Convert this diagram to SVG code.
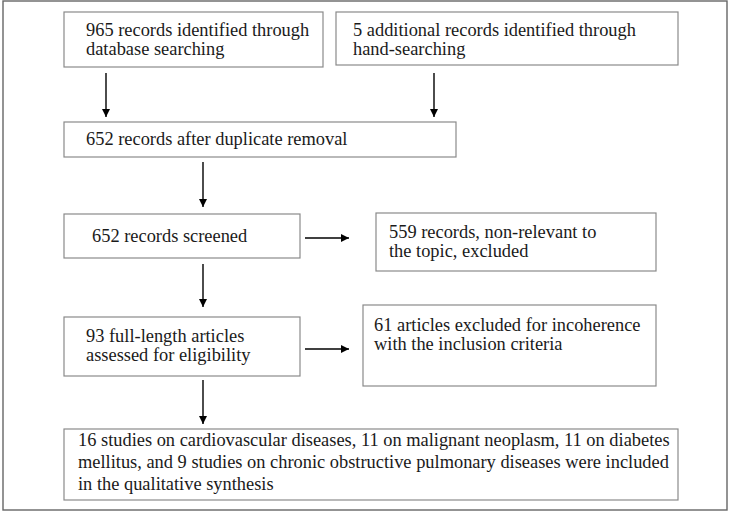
<svg xmlns="http://www.w3.org/2000/svg" width="732" height="514" viewBox="0 0 732 514">
<defs>
<marker id="ah" viewBox="0 0 10 10" refX="10" refY="5" markerWidth="8" markerHeight="8" markerUnits="userSpaceOnUse" orient="auto">
<path d="M0,0 L10,5 L0,10 Z" fill="#000"/>
</marker>
<style>
.box{fill:#fff;stroke:#8a8a8a;stroke-width:1.2}
.t{font-family:"Liberation Serif","Times New Roman",serif;font-size:18.4px;fill:#1a1a1a}
.c{stroke:#000;stroke-width:1.4;fill:none;marker-end:url(#ah)}
</style>
</defs>
<rect x="0" y="0" width="732" height="514" fill="#fff"/>
<rect x="3" y="1" width="724" height="509" fill="none" stroke="#666" stroke-width="1.4"/>
<g id="n1"><rect class="box" x="64" y="12" width="259" height="55"/>
<text class="t" x="86" y="36">965 records identified through</text>
<text class="t" x="86" y="55">database searching</text></g>
<g id="n2"><rect class="box" x="336" y="12" width="342" height="53"/>
<text class="t" x="353" y="36">5 additional records identified through</text>
<text class="t" x="353" y="55">hand-searching</text></g>
<g id="n3"><rect class="box" x="64" y="122" width="392" height="35"/>
<text class="t" x="86" y="145">652 records after duplicate removal</text></g>
<g id="n4"><rect class="box" x="64" y="214" width="236" height="44"/>
<text class="t" x="92" y="242">652 records screened</text></g>
<g id="n5"><rect class="box" x="376" y="213" width="280" height="58"/>
<text class="t" x="389" y="238">559 records, non-relevant to</text>
<text class="t" x="389" y="257">the topic, excluded</text></g>
<g id="n6"><rect class="box" x="64" y="317" width="236" height="59"/>
<text class="t" x="86" y="342">93 full-length articles</text>
<text class="t" x="86" y="361">assessed for eligibility</text></g>
<g id="n7"><rect class="box" x="363" y="305" width="293" height="81"/>
<text class="t" x="374" y="331">61 articles excluded for incoherence</text>
<text class="t" x="374" y="350">with the inclusion criteria</text></g>
<g id="n8"><rect class="box" x="64" y="429" width="614" height="71"/>
<text class="t" x="78" y="446">16 studies on cardiovascular diseases, 11 on malignant neoplasm, 11 on diabetes</text>
<text class="t" x="78" y="468">mellitus, and 9 studies on chronic obstructive pulmonary diseases were included</text>
<text class="t" x="78" y="490">in the qualitative synthesis</text></g>
<g id="connectors">
<line class="c" x1="106" y1="73" x2="106" y2="117"/>
<line class="c" x1="434" y1="73" x2="434" y2="117"/>
<line class="c" x1="203" y1="162" x2="203" y2="207"/>
<line class="c" x1="203" y1="264" x2="203" y2="307"/>
<line class="c" x1="203" y1="380" x2="203" y2="424"/>
<line class="c" x1="305" y1="238" x2="349" y2="238"/>
<line class="c" x1="305" y1="349" x2="349" y2="349"/>
</g>
</svg>
